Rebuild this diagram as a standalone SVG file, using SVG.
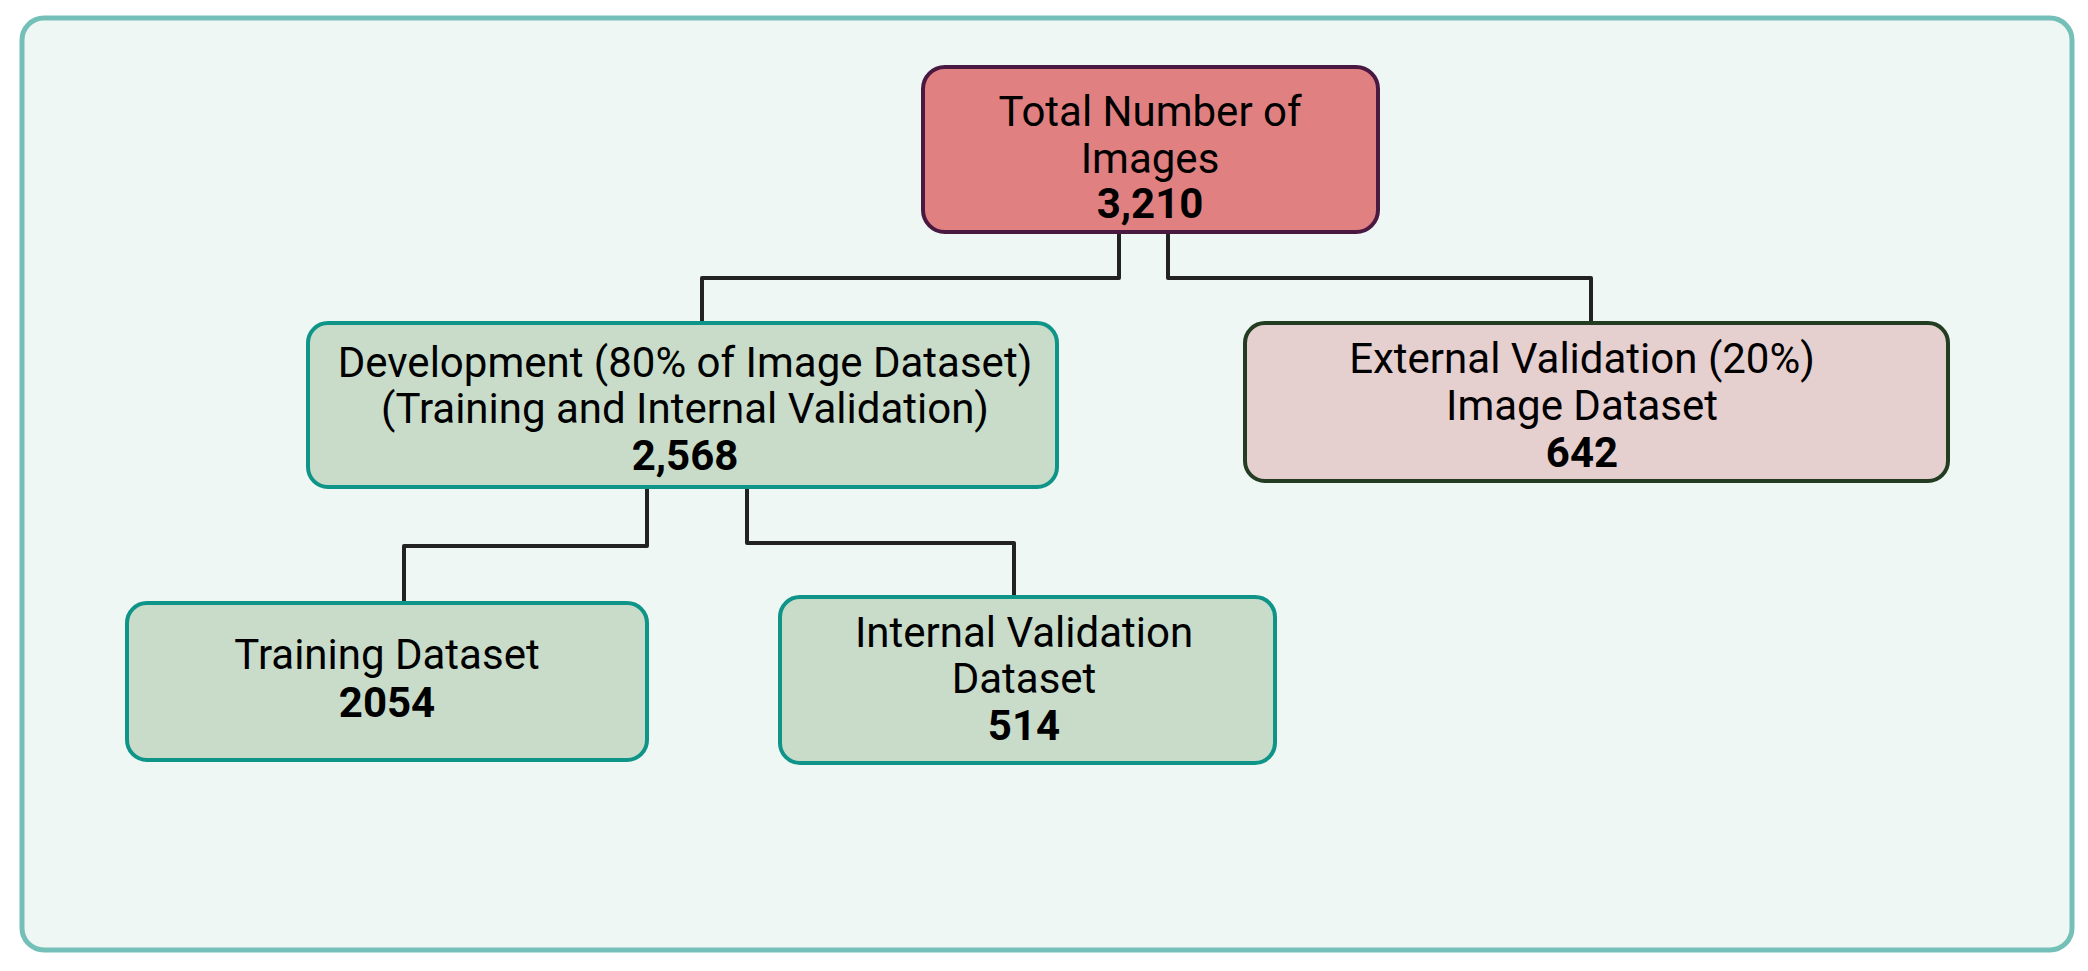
<svg xmlns="http://www.w3.org/2000/svg" width="2088" height="971" viewBox="0 0 2088 971">
<style>
.t{font-family:Roboto,"Liberation Sans",sans-serif;font-size:42px;fill:#000;text-anchor:middle}
.b{font-weight:bold}
.green{fill:#c8dcc9;stroke:#0f9488;stroke-width:4}
.conn path{fill:none;stroke:#222;stroke-width:4;stroke-linejoin:round}
</style>
<rect x="0" y="0" width="2088" height="971" fill="#ffffff"/>
<rect id="frame" x="22" y="18" width="2050" height="932" rx="22" fill="#eef7f3" stroke="#74c0b8" stroke-width="5"/>
<g id="connectors" class="conn">
<path d="M1119 232 V278 H702 V323"/>
<path d="M1168 232 V278 H1591 V323"/>
<path d="M647 487 V546 H404 V603"/>
<path d="M747 487 V543 H1014 V597"/>
</g>
<g id="total">
<rect x="923" y="67" width="455" height="165" rx="22" fill="#e08080" stroke="#4a1942" stroke-width="4"/>
<text class="t" x="1150" y="126">Total Number of</text>
<text class="t" x="1150" y="173">Images</text>
<text class="t b" x="1150" y="218">3,210</text>
</g>
<g id="development">
<rect class="green" x="308" y="323" width="749" height="164" rx="20"/>
<text class="t" x="685" y="377">Development (80% of Image Dataset)</text>
<text class="t" x="685" y="423">(Training and Internal Validation)</text>
<text class="t b" x="685" y="470">2,568</text>
</g>
<g id="external">
<rect x="1245" y="323" width="703" height="158" rx="20" fill="#e6cfcf" stroke="#233d23" stroke-width="4"/>
<text class="t" x="1582" y="373">External Validation (20%)</text>
<text class="t" x="1582" y="420">Image Dataset</text>
<text class="t b" x="1582" y="467">642</text>
</g>
<g id="training">
<rect class="green" x="127" y="603" width="520" height="157" rx="20"/>
<text class="t" x="387" y="669">Training Dataset</text>
<text class="t b" x="387" y="717">2054</text>
</g>
<g id="internal">
<rect class="green" x="780" y="597" width="495" height="166" rx="20"/>
<text class="t" x="1024" y="647">Internal Validation</text>
<text class="t" x="1024" y="693">Dataset</text>
<text class="t b" x="1024" y="740">514</text>
</g>
</svg>
